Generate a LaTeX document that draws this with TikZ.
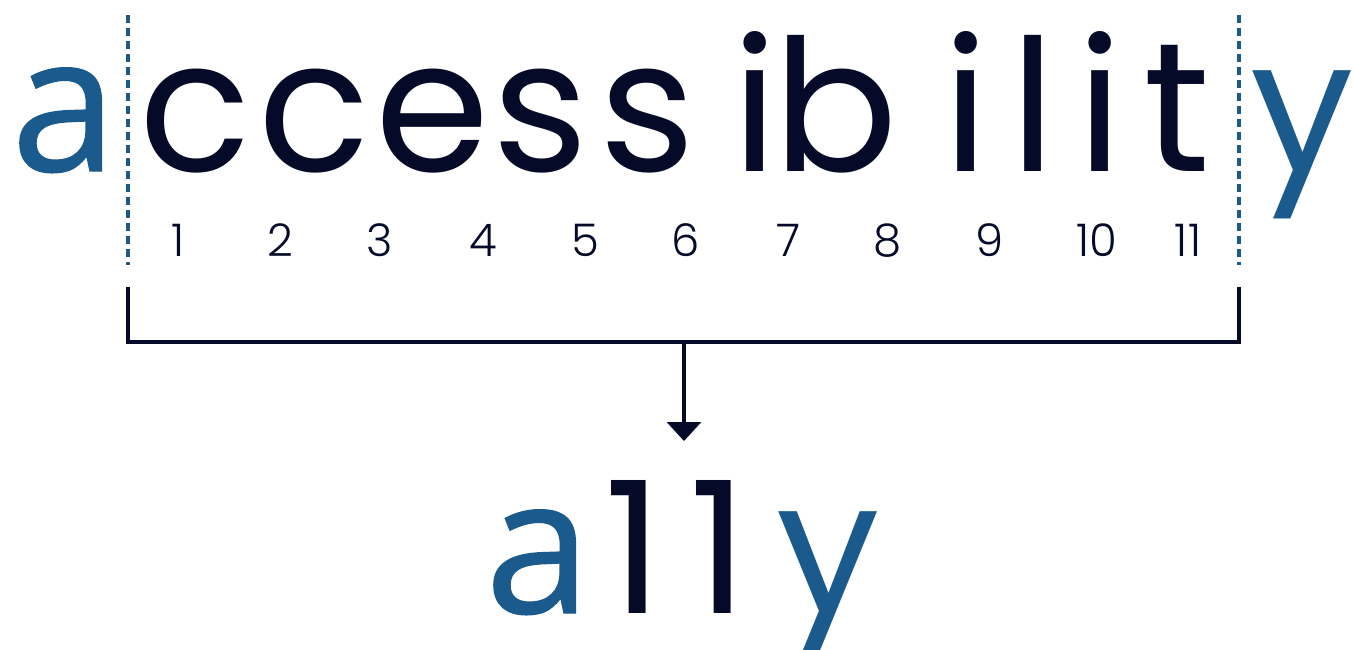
\documentclass[tikz,border=0pt]{standalone}
\usepackage{fontspec}
\setmainfont{Poppins}
\newfontfamily\afont{Open Sans}[FakeBold=0.7]
\newfontfamily\lightfont{Poppins Light}
\usetikzlibrary{arrows.meta}
\definecolor{navy}{HTML}{050A28}
\definecolor{acblue}{HTML}{1B5A8C}
\begin{document}
\begin{tikzpicture}[x=1pt,y=-1pt,
  big/.style={anchor=base,inner sep=0pt,font=\fontsize{184}{200}\selectfont},
  biga/.style={anchor=base,inner sep=0pt,font=\afont\fontsize{190}{200}\selectfont},
  dk/.style={text=navy},
  bl/.style={text=acblue},
  num/.style={anchor=base,inner sep=0pt,text=navy,font=\lightfont\fontsize{45}{50}\selectfont},
  guide/.style={draw=acblue,line width=3.5pt,dash pattern=on 8pt off 5pt},
  bracket/.style={draw=navy,line width=3.5pt},
  arr/.style={draw=navy,line width=3.5pt,-{Triangle[width=34pt,length=19pt]}}]
\useasboundingbox (0,0) rectangle (1353,649);
% top word
\node[biga,bl] (A)  at (64,171)   {a};
\node[big,dk] (c1) at (195,171)  {c};
\node[big,dk] (c2) at (314,171)  {c};
\node[big,dk] (e)  at (433,171)  {e};
\node[big,dk] (s1) at (541,171)  {s};
\node[big,dk] (s2) at (648,171)  {s};
\node[big,dk] (i1) at (755,171)  {i};
\node[big,dk] (b)  at (836,171)  {b};
\node[big,dk] (i2) at (966,171)  {i};
\node[big,dk] (l)  at (1033,171) {l};
\node[big,dk] (i3) at (1100,171) {i};
\node[big,dk] (t)  at (1177,171) {t};
\node[big,bl] (Y)  at (1302,171) {y};
% numbers
\node[num] (n1)  at (178,256)  {1};
\node[num] (n2)  at (280,256)  {2};
\node[num] (n3)  at (380,256)  {3};
\node[num] (n4)  at (483,256)  {4};
\node[num] (n5)  at (585,256)  {5};
\node[num] (n6)  at (686,256)  {6};
\node[num] (n7)  at (788,256)  {7};
\node[num] (n8)  at (888,256)  {8};
\node[num] (n9)  at (990,256)  {9};
\node[num] (n10) at (1097,256) {10};
\node[num] (n11) at (1188,256) {11};
% guides
\coordinate (gl1) at (128,15);
\coordinate (gl2) at (128,265);
\coordinate (gr1) at (1239,15);
\coordinate (gr2) at (1239,265);
\draw[guide] (gl1) -- (gl2);
\draw[guide] (gr1) -- (gr2);
% bracket
\coordinate (bl) at (128,287);
\coordinate (br) at (1239,287);
\coordinate (mid) at (684,342);
\coordinate (tip) at (684,441);
\draw[bracket] (bl) |- (mid) -| (br);
\draw[arr] (mid) -- (tip);
% bottom word
\node[biga,bl] (a2) at (538,613) {a};
\node[big,dk] (o1) at (634,613) {1};
\node[big,dk] (o2) at (719,613) {1};
\node[big,bl] (y2) at (828,612) {y};
\end{tikzpicture}
\end{document}
